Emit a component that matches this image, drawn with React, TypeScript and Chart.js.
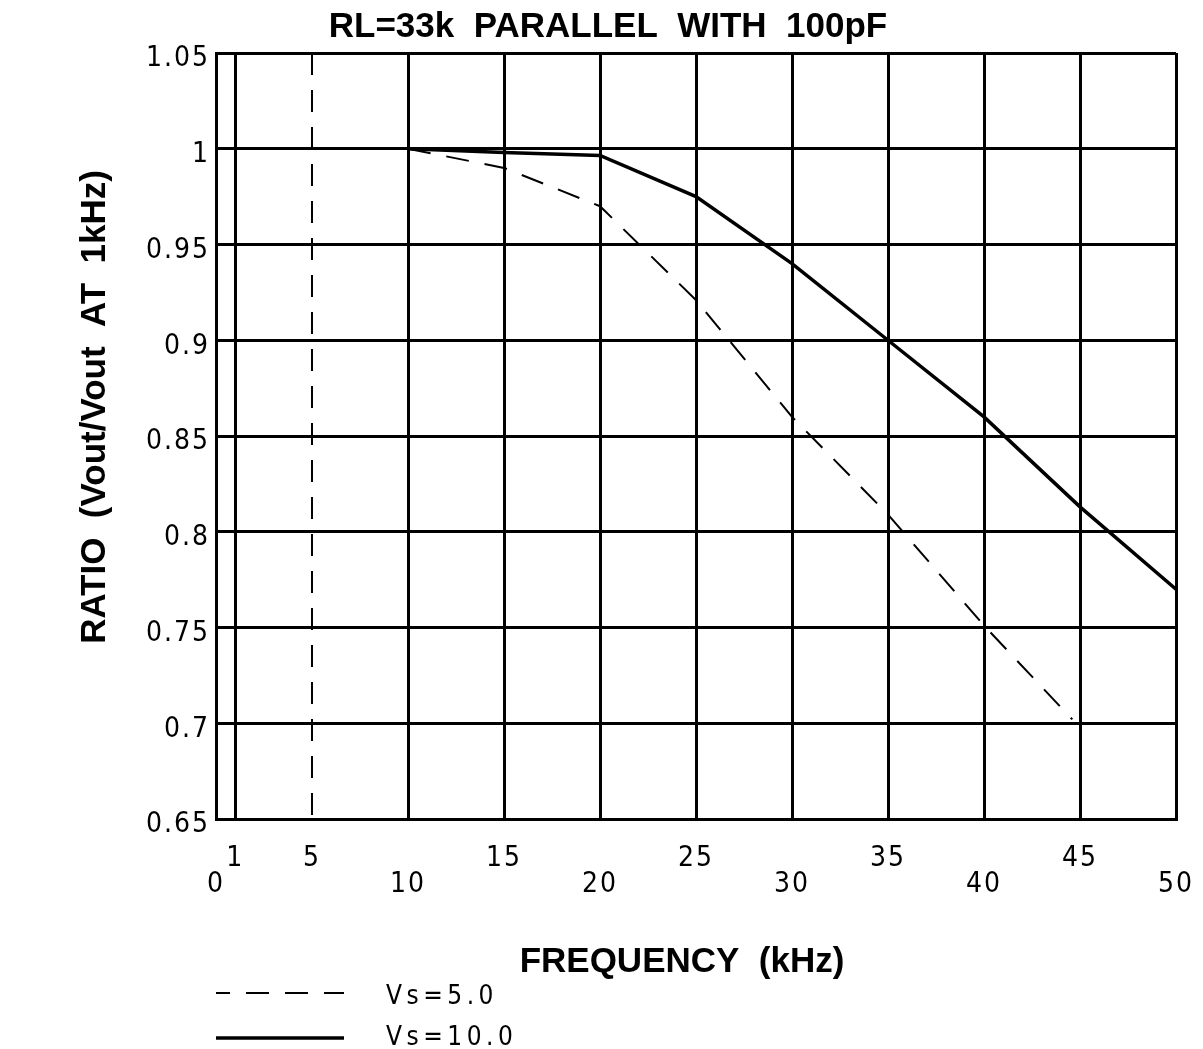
import React, { useEffect, useRef } from 'react';
import { Chart, Scale, registerables } from 'chart.js';

Chart.register(...registerables);

// ---- texts ----
const chartTitle = 'RL=33k  PARALLEL  WITH  100pF';
const xAxisTitle = 'FREQUENCY  (kHz)';
const yAxisTitle = 'RATIO  (Vout/Vout  AT  1kHz)';

// ---- axes ----
const xMin = 0;
const xMax = 50;
const xTicks = [0, 1, 5, 10, 15, 20, 25, 30, 35, 40, 45, 50];
const xTickLabels = ['0', '1', '5', '10', '15', '20', '25', '30', '35', '40', '45', '50'];
const xTickLowerRow = [true, false, false, true, false, true, false, true, false, true, false, true];
const xDashedGrid = [5];

const yMin = 0.65;
const yMax = 1.05;
const yTicks = [0.65, 0.7, 0.75, 0.8, 0.85, 0.9, 0.95, 1.0, 1.05];
const yTickLabels = ['0.65', '0.7', '0.75', '0.8', '0.85', '0.9', '0.95', '1', '1.05'];

// ---- series ----
const seriesLabels = ['Vs=5.0', 'Vs=10.0'];
const vs5Freq = [10, 15, 20, 25, 30, 35, 40, 44.6];
const vs5Ratio = [1.0, 0.99, 0.97, 0.921, 0.86, 0.809, 0.751, 0.702];
const vs10Freq = [10, 15, 20, 25, 30, 35, 40, 45, 50];
const vs10Ratio = [1.0, 0.998, 0.9965, 0.975, 0.94, 0.9, 0.86, 0.813, 0.77];

const THIN_FAMILY = "'Liberation Sans Narrow', 'DejaVu Sans Condensed', 'Liberation Sans', sans-serif";
const BOLD_FAMILY = "'Liberation Sans', Arial, sans-serif";

const toPoints = (xs: number[], ys: number[]) => xs.map((x, i) => ({ x, y: ys[i] }));

// shift an axis title drawn by the scale itself
const shiftTitle = (scale: any, dx: number, dy: number) => {
  if (scale.__shifted) return;
  scale.__shifted = true;
  scale.drawTitle = function () {
    const ctx = this.ctx;
    ctx.save();
    ctx.translate(dx, dy);
    (Scale.prototype as any).drawTitle.call(this);
    ctx.restore();
  };
};

const drawPlugin = {
  id: 'plotDecor',
  afterDatasetsDraw(chart: any) {
    // tick labels (z: 1) are drawn after datasets: give them the letter spacing of the original
    chart.ctx.letterSpacing = '2px';
  },
  afterDraw(chart: any) {
    const ctx = chart.ctx;
    ctx.letterSpacing = '0px';
    const area = chart.chartArea;
    const rows = [993, 1038];
    chart.data.datasets.forEach((ds: any, i: number) => {
      const y = rows[i];
      ctx.save();
      ctx.strokeStyle = '#000';
      ctx.lineWidth = ds.borderWidth;
      ctx.setLineDash(ds.borderDash || []);
      ctx.lineDashOffset = 9;
      ctx.beginPath();
      ctx.moveTo(area.left, y);
      ctx.lineTo(area.left + 128, y);
      ctx.stroke();
      ctx.setLineDash([]);
      ctx.letterSpacing = '4.5px';
      ctx.font = `normal 26px ${THIN_FAMILY}`;
      ctx.fillStyle = '#000';
      ctx.textAlign = 'left';
      ctx.textBaseline = 'middle';
      ctx.fillText(ds.label, area.left + 170, y + (i === 0 ? 4 : 0));
      ctx.restore();
    });
  },
};

export default function App() {
  const canvasRef = useRef<HTMLCanvasElement | null>(null);

  useEffect(() => {
    if (!canvasRef.current) return;
    const chart = new Chart(canvasRef.current, {
      type: 'line',
      data: {
        datasets: [
          {
            label: seriesLabels[0],
            data: toPoints(vs5Freq, vs5Ratio),
            borderColor: '#000',
            borderWidth: 2,
            borderDash: [23, 16],
            pointRadius: 0,
            fill: false,
            tension: 0,
          },
          {
            label: seriesLabels[1],
            data: toPoints(vs10Freq, vs10Ratio),
            borderColor: '#000',
            borderWidth: 3.5,
            borderDash: [],
            pointRadius: 0,
            fill: false,
            tension: 0,
          },
        ],
      },
      options: {
        responsive: false,
        animation: false,
        devicePixelRatio: 1,
        layout: { padding: { left: 40, right: 27, top: 0, bottom: 0 } },
        plugins: {
          legend: { display: false },
          tooltip: { enabled: false },
          title: {
            display: true,
            text: chartTitle,
            color: '#000',
            font: { family: BOLD_FAMILY, size: 35, weight: 'bold', lineHeight: 1.2 },
            padding: { top: 6, bottom: 5 },
          },
        },
        scales: {
          x: {
            type: 'linear',
            min: xMin,
            max: xMax,
            afterBuildTicks: (scale: any) => {
              scale.ticks = xTicks.map((v) => ({ value: v }));
            },
            afterFit: (scale: any) => {
              scale.height = 230;
              scale.paddingLeft = 0;
              scale.paddingRight = 0;
            },
            afterUpdate: (scale: any) => shiftTitle(scale, -14, 2),
            ticks: {
              z: 1,
              autoSkip: false,
              maxRotation: 0,
              minRotation: 0,
              padding: 27,
              color: '#000',
              font: { family: THIN_FAMILY, size: 28, lineHeight: 0.91 },
              callback: (_v: any, i: number) =>
                xTickLowerRow[i] ? ['', xTickLabels[i]] : [xTickLabels[i]],
            },
            grid: {
              drawTicks: false,
              color: '#000',
              lineWidth: (c: any) => (c.tick && xDashedGrid.includes(c.tick.value) ? 2 : 3),
            },
            border: {
              display: true,
              color: '#000',
              width: 3,
              dash: (c: any) => (c.tick && xDashedGrid.includes(c.tick.value) ? [22, 15] : []),
            },
            title: {
              display: true,
              text: xAxisTitle,
              color: '#000',
              font: { family: BOLD_FAMILY, size: 35, weight: 'bold', lineHeight: 1.2 },
              padding: { top: 0, bottom: 68 },
            },
          },
          y: {
            type: 'linear',
            min: yMin,
            max: yMax,
            afterBuildTicks: (scale: any) => {
              scale.ticks = yTicks.map((v) => ({ value: v }));
            },
            afterFit: (scale: any) => {
              scale.width = 176;
              scale.paddingTop = 0;
              scale.paddingBottom = 0;
            },
            afterUpdate: (scale: any) => shiftTitle(scale, 0, -29),
            ticks: {
              z: 1,
              autoSkip: false,
              padding: 6,
              labelOffset: 6,
              color: '#000',
              font: { family: THIN_FAMILY, size: 28 },
              callback: (_v: any, i: number) => yTickLabels[i],
            },
            grid: {
              drawTicks: false,
              color: '#000',
              lineWidth: 3,
            },
            border: { display: true, color: '#000', width: 3 },
            title: {
              display: true,
              text: yAxisTitle,
              color: '#000',
              font: { family: BOLD_FAMILY, size: 35, weight: 'bold', lineHeight: 1.2 },
              padding: { top: 34, bottom: 0 },
            },
          },
        },
      },
      plugins: [drawPlugin],
    } as any);
    return () => chart.destroy();
  }, []);

  return (
    <div style={{ position: 'fixed', left: 0, top: 0, width: 1203, height: 1049, background: '#fff' }}>
      <canvas ref={canvasRef} width={1203} height={1049} style={{ display: 'block' }} />
    </div>
  );
}
